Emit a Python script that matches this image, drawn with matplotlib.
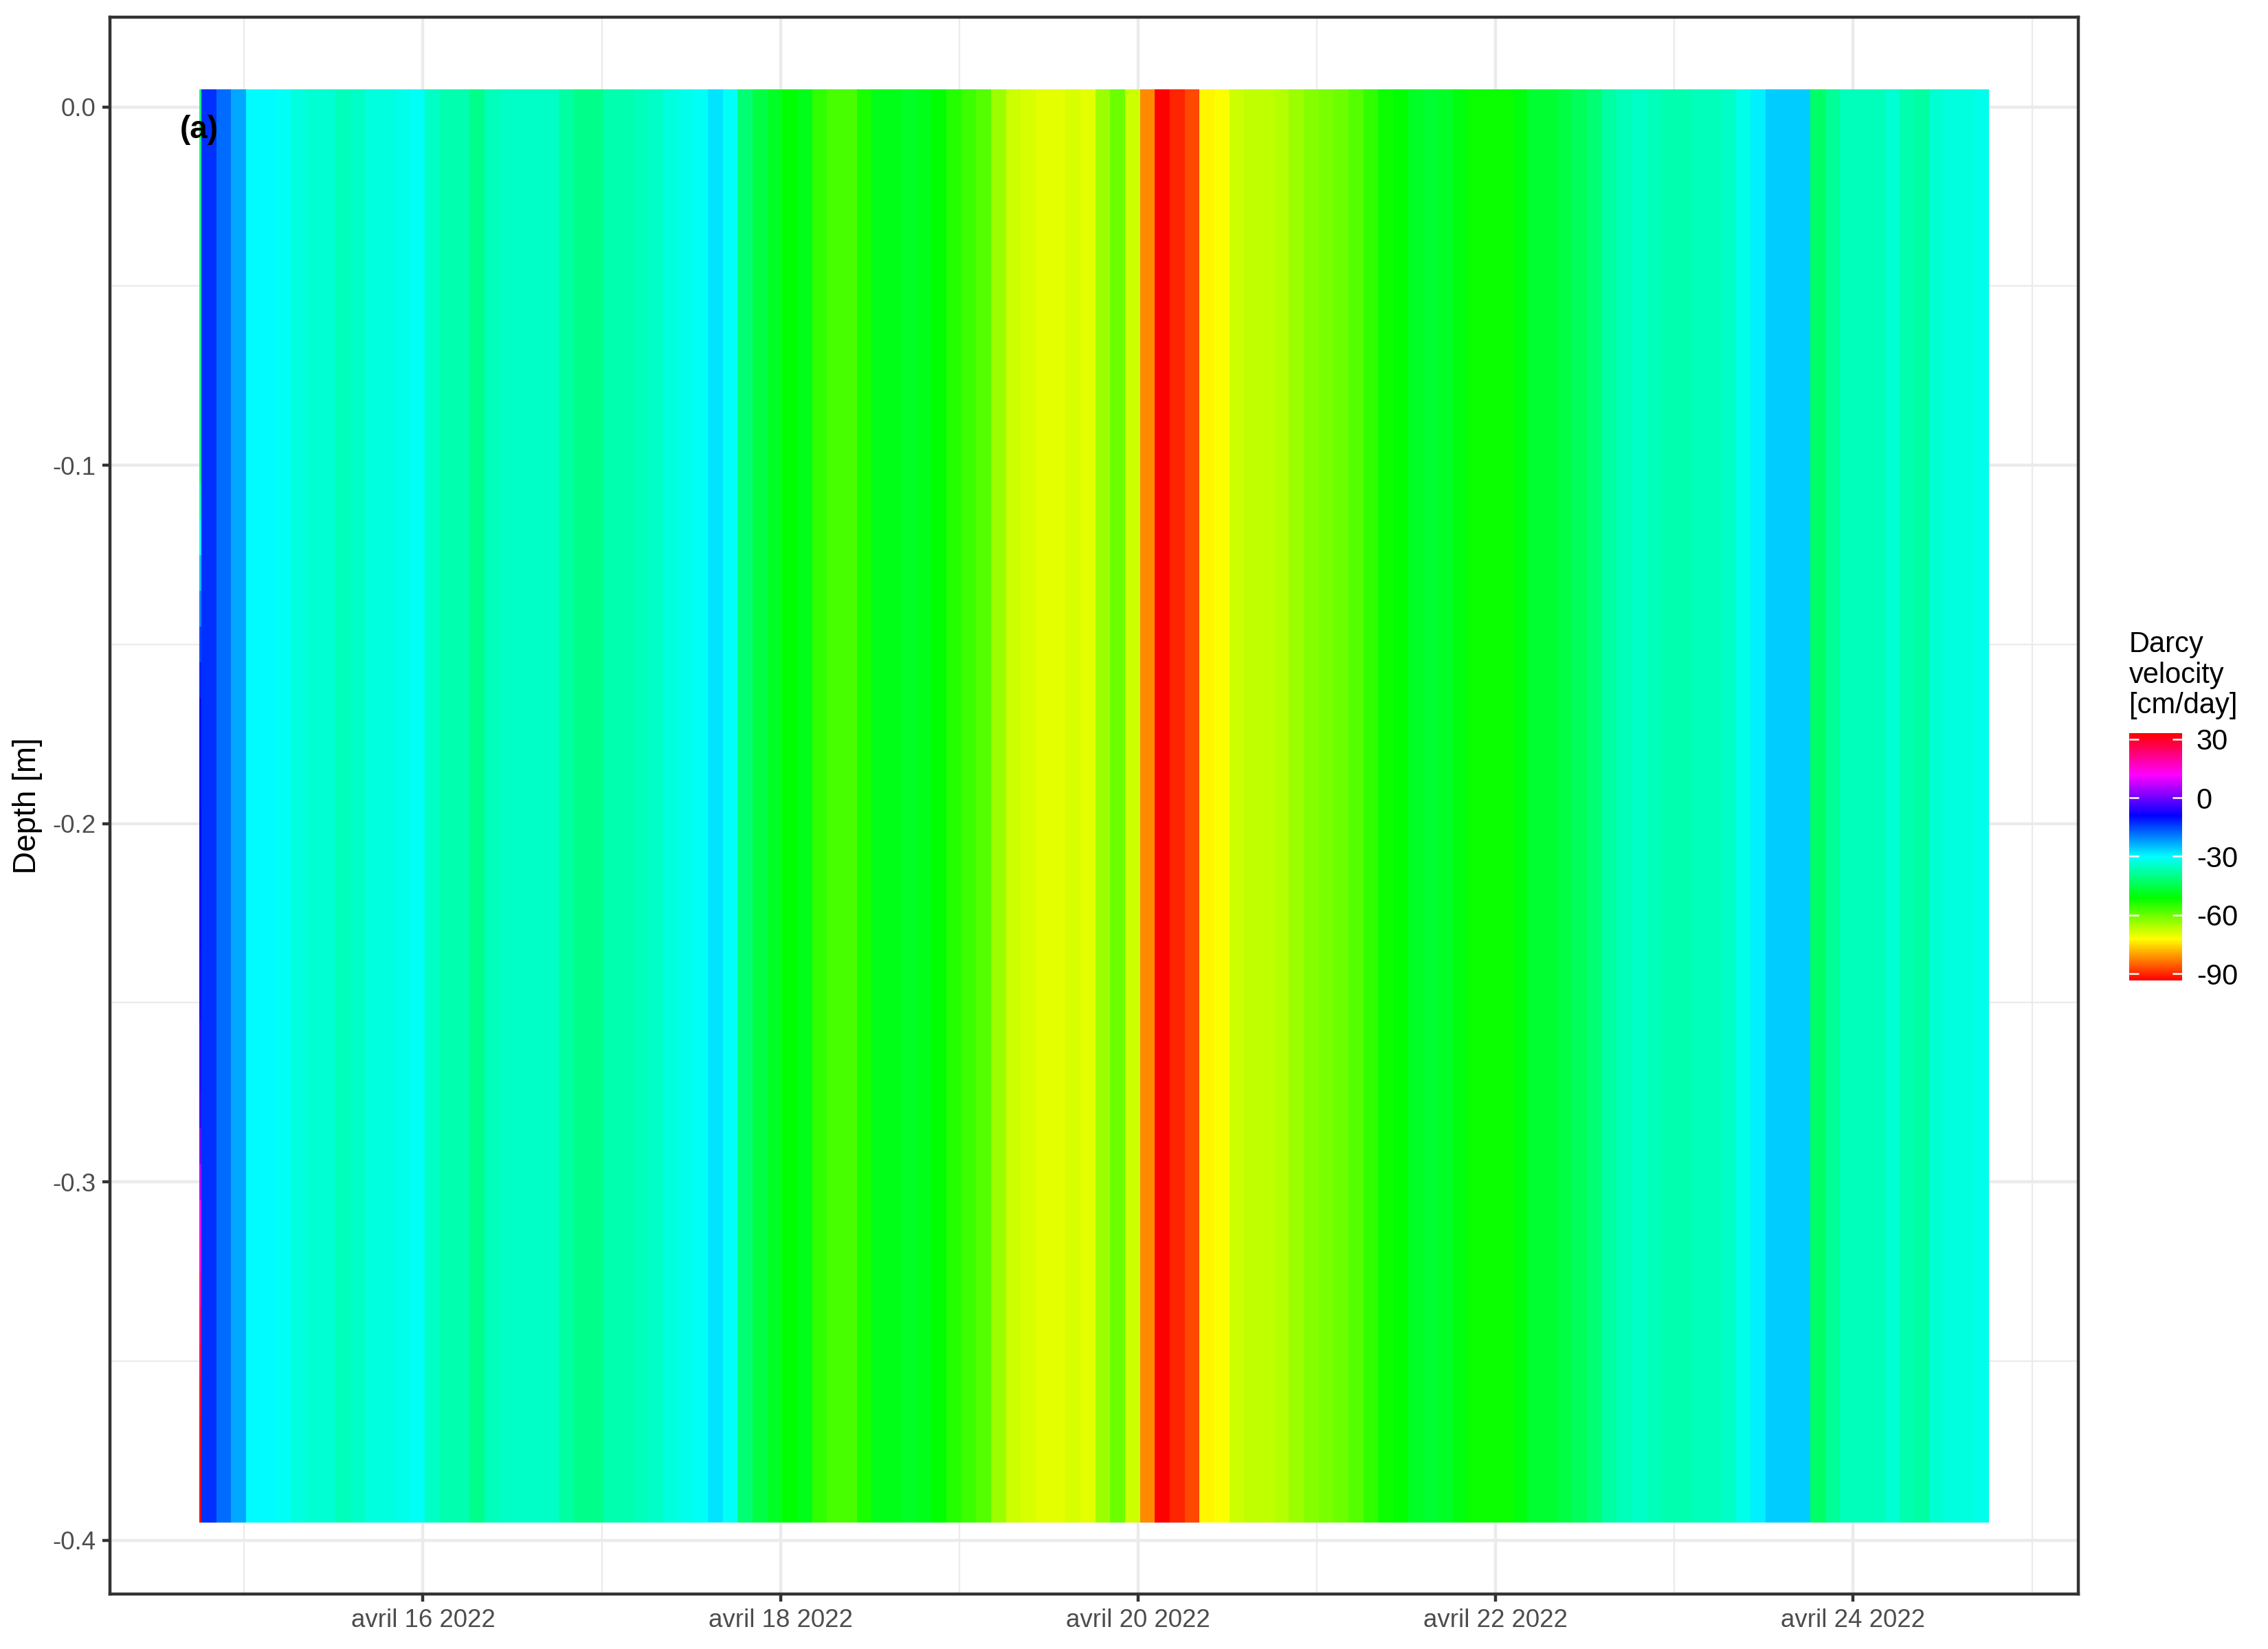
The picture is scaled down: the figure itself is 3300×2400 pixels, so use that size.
import numpy as np
import pandas as pd
import matplotlib
matplotlib.use("Agg")
import matplotlib.pyplot as plt
import matplotlib.dates as mdates
from matplotlib.colors import LinearSegmentedColormap

plt.rcParams['font.family'] = ['Liberation Sans', 'DejaVu Sans']
plt.rcParams['axes.unicode_minus'] = False

# time axis: first (short) record, then 2-hourly records
start = "2022-04-14 18:00"
first_minutes = 15
step = "2h"

# Darcy velocity [cm/day], one value per 2 hours
velocity = [
    -13, -18, -23, -30, -30, -31, -33, -34, -34, -36,
    -35, -33, -33, -32, -31, -35, -37, -37, -40, -36,
    -35, -35, -35, -35, -38, -40, -40, -37, -37, -36,
    -35, -33, -32, -31, -28, -31, -42, -46, -48, -51,
    -49, -55, -57, -57, -53, -49, -49, -48, -49, -51,
    -54, -56, -58, -64, -68, -69, -70, -70, -69, -70,
    -64, -60, -68, -82, -93.4, -90, -87, -73, -72, -68,
    -67, -67, -66, -64, -62, -61, -60, -58, -55, -52,
    -51, -48, -47, -48, -50, -52, -52, -52, -50, -47,
    -47, -46, -44, -42, -38, -36, -35, -36, -37, -37,
    -36, -36, -35, -32, -29, -26, -26, -26, -43, -39,
    -36, -36, -36, -34, -37, -38, -34, -33, -33, -32,
]

# depth cells [m] and the profile of the very first record (top to bottom)
depth = np.linspace(0, -0.39, 40)
first_profile = [
    -40, -40, -40, -40, -40, -40, -40, -40, -40, -40, -40,
    -35, -30, -25, -20, -15, -12,
    -10, -10, -10, -9, -9, -8, -8, -7, -7, -6, -6, -5,
    0, 5, 10, 14, 18, 22,
    25, 28, 30, 32, 33,
]

major_days = ["2022-04-16", "2022-04-18", "2022-04-20", "2022-04-22", "2022-04-24"]
major_labels = ["avril 16 2022", "avril 18 2022", "avril 20 2022",
                "avril 22 2022", "avril 24 2022"]
minor_days = ["2022-04-15", "2022-04-17", "2022-04-19", "2022-04-21",
              "2022-04-23", "2022-04-25"]
depth_ticks = [0.0, -0.1, -0.2, -0.3, -0.4]
depth_labels = ["0.0", "-0.1", "-0.2", "-0.3", "-0.4"]
cbar_ticks = [30, 0, -30, -60, -90]
cbar_labels = ["30", "0", "-30", "-60", "-90"]

# rainbow palette, red at both ends
rainbow = LinearSegmentedColormap.from_list(
    "rainbow_gg", ["#FF0000", "#FFFF00", "#00FF00", "#00FFFF",
                   "#0000FF", "#FF00FF", "#FF0000"])

# grid of cells
t0 = pd.Timestamp(start)
t1 = t0 + pd.Timedelta(minutes=first_minutes)
edges = [t0] + list(pd.date_range(t1, periods=len(velocity) + 1, freq=step))
x_edges = mdates.date2num(edges)
dz = abs(depth[1] - depth[0])
y_edges = np.concatenate([depth + dz / 2, [depth[-1] - dz / 2]])
Z = np.column_stack([first_profile] + [np.full(len(depth), v) for v in velocity])

fig = plt.figure(figsize=(11, 8), dpi=300)
ax = fig.add_axes([0.0485, 0.0333, 0.868, 0.9562])

mesh = ax.pcolormesh(x_edges, y_edges, Z, cmap=rainbow,
                     vmin=Z.min(), vmax=Z.max(), shading='flat',
                     linewidth=0, antialiased=False, zorder=1)

xr = x_edges[-1] - x_edges[0]
ax.set_xlim(x_edges[0] - 0.05 * xr, x_edges[-1] + 0.05 * xr)
yr = y_edges[0] - y_edges[-1]
ax.set_ylim(y_edges[-1] - 0.05 * yr, y_edges[0] + 0.05 * yr)

ax.set_xticks(mdates.date2num(pd.to_datetime(major_days)))
ax.set_xticklabels(major_labels)
ax.set_xticks(mdates.date2num(pd.to_datetime(minor_days)), minor=True)
ax.set_yticks(depth_ticks)
ax.set_yticklabels(depth_labels)
ax.set_yticks([-0.35, -0.25, -0.15, -0.05], minor=True)

ax.set_axisbelow(True)
ax.grid(which='major', color='#EBEBEB', linewidth=1.07, zorder=0)
ax.grid(which='minor', color='#EBEBEB', linewidth=0.53, zorder=0)
ax.tick_params(which='major', length=2.75, width=1.07, color='#333333',
               labelsize=8.8, labelcolor='#4D4D4D', pad=2.2)
ax.tick_params(which='minor', length=0)
for s in ax.spines.values():
    s.set_color('#333333')
    s.set_linewidth(1.07)

ax.set_ylabel("Depth [m]", fontsize=11, labelpad=3.5)
ax.text(x_edges[0], -0.0065, "(a)", fontsize=11, fontweight='bold',
        ha='center', va='center', zorder=3)

# colour bar
cax = fig.add_axes([0.9388, 0.4054, 0.0233, 0.15])
cb = fig.colorbar(mesh, cax=cax, ticks=cbar_ticks)
cb.ax.set_yticklabels(cbar_labels)
cb.outline.set_visible(False)
cax.tick_params(left=True, right=True, direction='in', length=3.4,
                width=0.6, color='white', labelsize=10, pad=5)
fig.text(0.9388, 0.6175, "Darcy\nvelocity\n[cm/day]", fontsize=10,
         ha='left', va='top', linespacing=1.15)

fig.savefig("out.png", dpi=300)
